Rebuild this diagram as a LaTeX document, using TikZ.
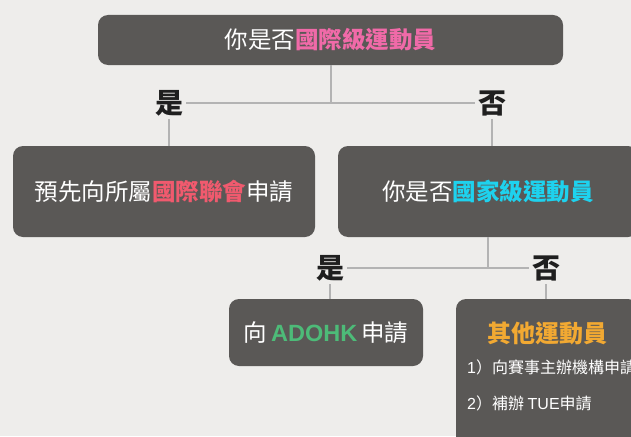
\documentclass[tikz,border=0pt]{standalone}
\usepackage{fontspec}
\setmainfont{Noto Sans CJK TC}
\newfontfamily\latinfont{Liberation Sans}
\definecolor{bg}{HTML}{EEEDEB}
\definecolor{boxc}{HTML}{5A5856}
\definecolor{linec}{HTML}{B3B3B3}
\definecolor{pinkc}{HTML}{F06AA8}
\definecolor{redc}{HTML}{F05A6E}
\definecolor{cyanc}{HTML}{1ED2EE}
\definecolor{greenc}{HTML}{4DBB78}
\definecolor{orangec}{HTML}{F2A932}
\tikzset{
  qbox/.style={fill=boxc, draw=none, rounded corners=10pt, text=white, inner sep=0pt, font=\fontsize{23.5}{28}\selectfont},
  yn/.style={font=\fontsize{28}{32}\selectfont\bfseries, text=black!88, inner sep=3pt},
  conn/.style={draw=linec, line width=2pt},
  itemtxt/.style={font=\fontsize{16}{19}\selectfont, text=white, inner sep=0pt, anchor=west},
}
\begin{document}
\begin{tikzpicture}[x=1pt,y=-1pt]
\fill[bg] (0,0) rectangle (631,436);
\useasboundingbox (0,0) rectangle (631,436);
\clip (0,0) rectangle (631,436);
% boxes
\node[qbox, minimum width=465pt, minimum height=50pt] (top) at (330.5,40) {你是否\textcolor{pinkc}{\bfseries 國際級運動員}};
\node[qbox, minimum width=302pt, minimum height=91pt] (left) at (164,191.5) {預先向所屬\textcolor{redc}{\bfseries 國際聯會}申請};
\node[qbox, minimum width=300pt, minimum height=91pt] (right) at (488,191.5) {};
\node[font=\fontsize{23.5}{28}\selectfont, text=white, inner sep=0pt] (righttxt) at (488,191.5) {你是否\textcolor{cyanc}{\bfseries 國家級運動員}};
\node[qbox, minimum width=194pt, minimum height=67pt] (adohk) at (326,332.5) {向\,\textcolor{greenc}{\latinfont\bfseries ADOHK}\,申請};
\node[qbox, minimum width=182pt, minimum height=152pt] (other) at (547,375) {};
\node[font=\fontsize{24}{28}\selectfont\bfseries, text=orangec, inner sep=0pt] (othertitle) at (547,333) {其他運動員};
\node[itemtxt] (item1) at (467,367) {{\latinfont 1}）向賽事主辦機構申請};
\node[itemtxt] (item2) at (467,403) {{\latinfont 2}）補辦 {\latinfont TUE}申請};
% labels
\node[yn] (yes1) at (169,103) {是};
\node[yn] (no1) at (492,103) {否};
\node[yn] (yes2) at (330,268) {是};
\node[yn] (no2) at (546,268) {否};
% connectors
\coordinate (j1) at (top.south |- yes1);
\coordinate (j2) at (right.south |- yes2);
\draw[conn] (top.south) -- (j1);
\draw[conn] (yes1.east) -- (no1.west);
\draw[conn] (yes1.south) -- (yes1.south |- left.north);
\draw[conn] (no1.south) -- (no1.south |- right.north);
\draw[conn] (right.south) -- (j2);
\draw[conn] (yes2.east) -- (no2.west);
\draw[conn] (yes2.south) -- (yes2.south |- adohk.north);
\draw[conn] (no2.south) -- (no2.south |- other.north);
\end{tikzpicture}
\end{document}
